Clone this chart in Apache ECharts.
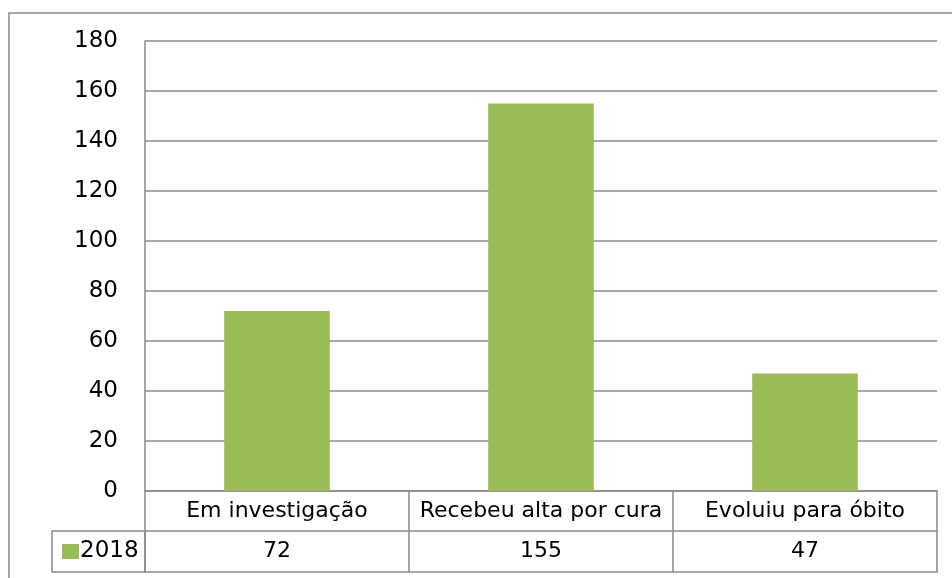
<!DOCTYPE html>
<html lang="pt">
<head>
    <meta charset="UTF-8">
    <title>2018</title>
    <script src="https://cdn.jsdelivr.net/npm/echarts@6/dist/echarts.min.js"></script>
    <style>
        html, body { margin: 0; padding: 0; background: #fff; }
        #main { width: 952px; height: 578px; }
    </style>
</head>
<body>
    <div id="main"></div>
    <script>
        var categorias = ['Em investigação', 'Recebeu alta por cura', 'Evoluiu para óbito'];
        var valores2018 = [72, 155, 47];
        var serieNome = '2018';

        var cinza = '#8a8a8a';
        var verde = '#9bbb59';
        var fonte = 'DejaVu Sans';

        var myChart = echarts.init(document.getElementById('main'));

        myChart.setOption({
            animation: false,
            backgroundColor: '#fff',
            grid: { left: 145, right: 15, top: 41, height: 450 },
            legend: {
                data: [serieNome],
                left: 62, top: 540,
                padding: 0,
                icon: 'rect',
                itemWidth: 17, itemHeight: 15,
                textStyle: { fontFamily: fonte, fontSize: 23, color: '#000', padding: [0, 0, 0, -4] }
            },
            xAxis: [
                {
                    type: 'category',
                    data: categorias,
                    position: 'bottom',
                    axisLine: { show: true, lineStyle: { color: cinza, width: 1.5 } },
                    axisTick: { show: true, interval: 0, length: 81, lineStyle: { color: cinza, width: 1.5 } },
                    axisLabel: { interval: 0, margin: 9, fontFamily: fonte, fontSize: 22, color: '#000' }
                },
                {
                    type: 'category',
                    data: valores2018.map(String),
                    position: 'bottom',
                    offset: 40,
                    axisLine: { show: true, lineStyle: { color: cinza, width: 1.5 } },
                    axisTick: { show: false },
                    axisLabel: { interval: 0, margin: 9, fontFamily: fonte, fontSize: 22, color: '#000' }
                },
                {
                    type: 'category',
                    data: categorias,
                    position: 'bottom',
                    offset: 81,
                    axisLine: { show: true, lineStyle: { color: cinza, width: 1.5 } },
                    axisTick: { show: false },
                    axisLabel: { show: false }
                }
            ],
            yAxis: {
                type: 'value',
                min: 0, max: 180, interval: 20,
                axisLine: { show: true, lineStyle: { color: cinza, width: 1.5 } },
                axisTick: { show: false },
                axisLabel: { margin: 27, fontFamily: fonte, fontSize: 23, color: '#000' },
                splitLine: { lineStyle: { color: cinza, width: 1.5 } }
            },
            series: [
                {
                    name: serieNome,
                    type: 'bar',
                    data: valores2018,
                    barWidth: '40%',
                    itemStyle: { color: verde }
                }
            ],
            graphic: [
                {
                    type: 'rect',
                    shape: { x: 9, y: 13, width: 1000, height: 700 },
                    style: { fill: 'none', stroke: cinza, lineWidth: 1.5 },
                    silent: true
                },
                {
                    type: 'rect',
                    shape: { x: 52, y: 531, width: 93, height: 41 },
                    style: { fill: 'none', stroke: cinza, lineWidth: 1.5 },
                    silent: true
                }
            ]
        });
    </script>
</body>
</html>
